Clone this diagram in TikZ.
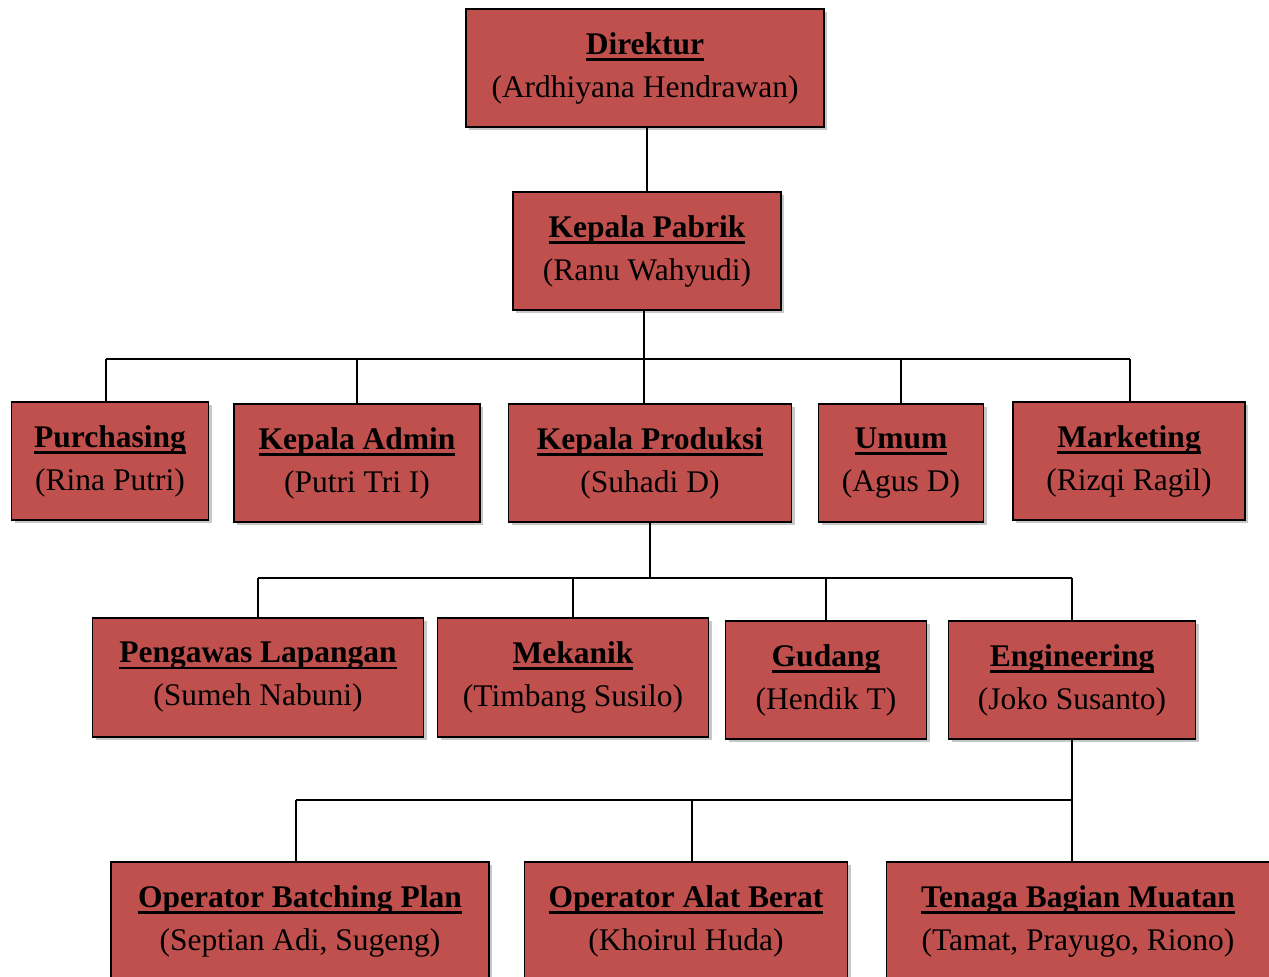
\documentclass[tikz,border=0pt]{standalone}
\usepackage{fontspec}
\setmainfont{Liberation Serif}
\usetikzlibrary{shadows}
\definecolor{boxred}{HTML}{C0504D}
\newcommand\thickul[1]{\setbox0\hbox{#1}\rlap{\rule[-6.5pt]{\wd0}{2.8pt}}\box0}
\newcommand\orgtext[2]{\thickul{\textbf{#1}}\\(#2)}
\tikzset{
  box/.style={draw=black, line width=1.8pt, fill=boxred, inner sep=0pt, align=center,
    font=\fontsize{31.5}{43}\selectfont,
    drop shadow={shadow xshift=3pt, shadow yshift=-3pt, opacity=0.22, fill=black}},
  conn/.style={draw=black, line width=2pt}
}
\begin{document}
\begin{tikzpicture}[x=1pt,y=-1pt]
\useasboundingbox (0,0) rectangle (1269,977);
\begin{scope}
\clip (0,0) rectangle (1269,977);
\coordinate (b1L) at (106,359);
\coordinate (b1M) at (644,359);
\coordinate (b1R) at (1130,359);
\coordinate (b2L) at (258,578);
\coordinate (b2R) at (1072,578);
\coordinate (b3L) at (296,800);
\coordinate (b3R) at (1072,800);
\coordinate (b3M) at (692,800);
\node[box, minimum width=358, minimum height=118] (dir) at (645,68) {\orgtext{Direktur}{Ardhiyana Hendrawan}};
\node[box, minimum width=268, minimum height=118] (pab) at (647,251) {\orgtext{Kepala Pabrik}{Ranu Wahyudi}};
\node[box, minimum width=197, minimum height=118] (pur) at (110,461) {\orgtext{Purchasing}{Rina Putri}};
\node[box, minimum width=246, minimum height=118] (adm) at (357,463) {\orgtext{Kepala Admin}{Putri Tri I}};
\node[box, minimum width=283, minimum height=118] (prod) at (650,463) {\orgtext{Kepala Produksi}{Suhadi D}};
\node[box, minimum width=165, minimum height=118] (umum) at (901,463) {\orgtext{Umum}{Agus D}};
\node[box, minimum width=232, minimum height=118] (mkt) at (1129,461) {\orgtext{Marketing}{Rizqi Ragil}};
\node[box, minimum width=331, minimum height=119] (peng) at (258,677.5) {\orgtext{Pengawas Lapangan}{Sumeh Nabuni}};
\node[box, minimum width=271, minimum height=119] (mek) at (573,677.5) {\orgtext{Mekanik}{Timbang Susilo}};
\node[box, minimum width=201, minimum height=118] (gud) at (826,680) {\orgtext{Gudang}{Hendik T}};
\node[box, minimum width=247, minimum height=118] (eng) at (1072,680) {\orgtext{Engineering}{Joko Susanto}};
\node[box, minimum width=378, minimum height=118] (opb) at (300,921) {\orgtext{Operator Batching Plan}{Septian Adi, Sugeng}};
\node[box, minimum width=323, minimum height=118] (opa) at (686,921) {\orgtext{Operator Alat Berat}{Khoirul Huda}};
\node[box, minimum width=383, minimum height=118] (ten) at (1078,921) {\orgtext{Tenaga Bagian Muatan}{Tamat, Prayugo, Riono}};
% lines
\draw[conn] (pab.north) -- (pab.north |- dir.south);
\draw[conn] (b1L) -- (b1R);
\draw[conn] (b1M |- pab.south) -- (b1M |- prod.north);
\draw[conn] (b1L) -- (b1L |- pur.north);
\draw[conn] (adm.north) -- (adm.north |- b1L);
\draw[conn] (umum.north) -- (umum.north |- b1L);
\draw[conn] (b1R) -- (b1R |- mkt.north);
\draw[conn] (b2L) -- (b2R);
\draw[conn] (prod.south) -- (prod.south |- b2L);
\draw[conn] (b2L) -- (b2L |- peng.north);
\draw[conn] (mek.north) -- (mek.north |- b2L);
\draw[conn] (gud.north) -- (gud.north |- b2L);
\draw[conn] (b2R) -- (b2R |- eng.north);
\draw[conn] (b3L) -- (b3R);
\draw[conn] (eng.south) -- (eng.south |- ten.north);
\draw[conn] (b3L) -- (b3L |- opb.north);
\draw[conn] (b3M) -- (b3M |- opa.north);
\end{scope}
\end{tikzpicture}
\end{document}
